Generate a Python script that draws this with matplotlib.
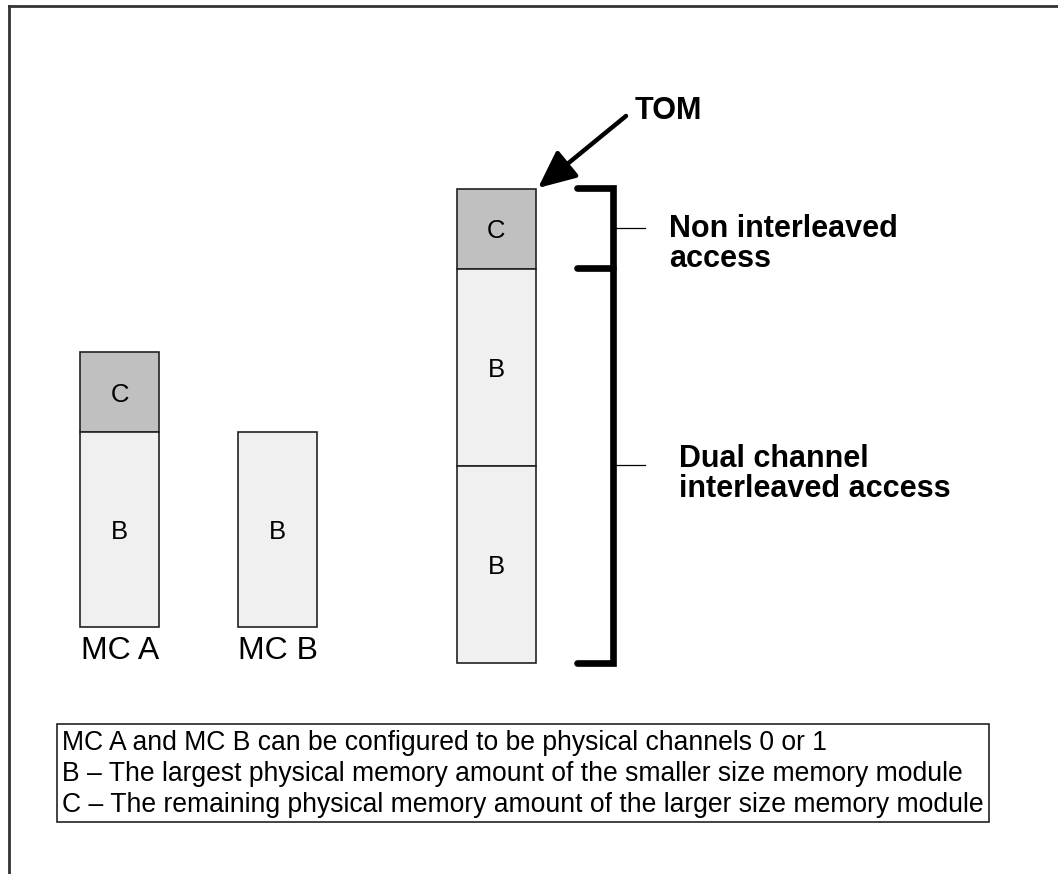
import matplotlib
matplotlib.use("Agg")
import matplotlib.pyplot as plt
from matplotlib.patches import Rectangle

plt.rcParams['font.family'] = ['Liberation Sans', 'DejaVu Sans']

# memory blocks: (column label, x left, segment names, segment tops, segment bottoms)
col_names = ["MC A", "MC B", ""]
col_x = [80, 238, 457]
col_w = 79
seg_names = [["C", "B"], ["B"], ["C", "B", "B"]]
seg_top = [[352, 432], [432], [189, 269, 466]]
seg_bot = [[432, 627], [627], [269, 466, 663]]
seg_colors = {"C": "#c0c0c0", "B": "#f0f0f0"}

legend_lines = [
    "MC A and MC B can be configured to be physical channels 0 or 1",
    "B \u2013 The largest physical memory amount of the smaller size memory module",
    "C \u2013 The remaining physical memory amount of the larger size memory module",
]

fig = plt.figure(figsize=(10.58, 8.74), dpi=100)
ax = fig.add_axes([0, 0, 1, 1])
ax.set_xlim(0, 1058)
ax.set_ylim(874, 0)
ax.axis("off")

# outer frame (top and left only)
ax.plot([9, 1057], [6, 6], color="#333333", lw=2)
ax.plot([9, 9], [6, 874], color="#333333", lw=2)

for k in range(len(col_x)):
    x = col_x[k]
    for name, t, b in zip(seg_names[k], seg_top[k], seg_bot[k]):
        ax.add_patch(Rectangle((x, t), col_w, b - t, facecolor=seg_colors[name],
                               edgecolor="#222222", lw=1.2))
        ax.text(x + col_w / 2, (t + b) / 2, name, ha="center", va="center_baseline", fontsize=18.5)
    if col_names[k]:
        ax.text(x + col_w / 2 + 1, 659, col_names[k], ha="center", va="baseline", fontsize=23)

# bracket
bx = 613
ax.plot([577, bx, bx, 577], [188, 188, 663, 663], color="black", lw=4.8,
        solid_capstyle="round", solid_joinstyle="miter")
ax.plot([577, bx], [268, 268], color="black", lw=4.8, solid_capstyle="round")
ax.plot([bx, 645], [228, 228], color="black", lw=0.9)
ax.plot([bx, 645], [465, 465], color="black", lw=0.9)

bold_kw = dict(ha="left", va="baseline", fontsize=22, fontweight="bold")
ax.text(669, 237, "Non interleaved", **bold_kw)
ax.text(669, 267, "access", **bold_kw)
ax.text(679, 467, "Dual channel", **bold_kw)
ax.text(679, 497, "interleaved access", **bold_kw)

# TOM arrow
ax.annotate("", xy=(538, 188), xytext=(626, 116),
            arrowprops=dict(arrowstyle="-|>,head_length=2.3,head_width=1.05",
                            color="black", lw=3.2, shrinkA=0, shrinkB=0))
ax.text(635, 119, "TOM", **bold_kw)

# legend box
ax.add_patch(Rectangle((57, 724), 932, 98, facecolor="white", edgecolor="#222222", lw=1.2))
for i, line in enumerate(legend_lines):
    ax.text(62, 750 + 31 * i, line, ha="left", va="baseline", fontsize=19.1)

fig.savefig("out.png", dpi=100)
